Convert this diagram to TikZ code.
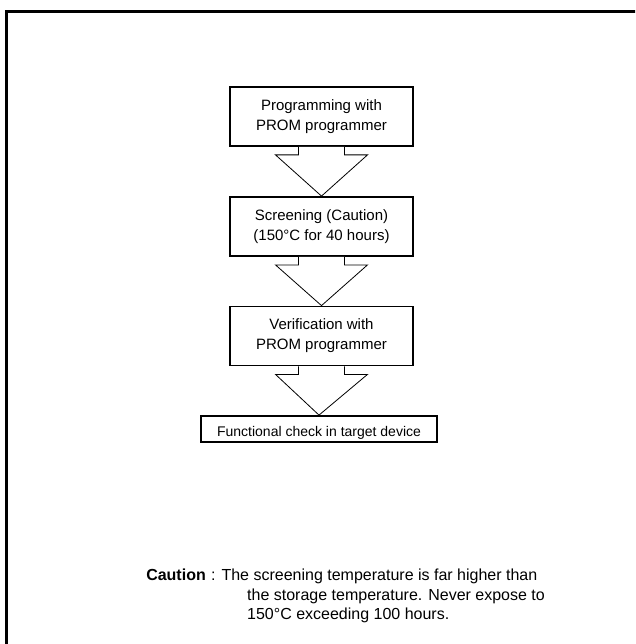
\documentclass[tikz,border=0pt]{standalone}
\usepackage{fontspec}
\setmainfont{Liberation Sans}
\usetikzlibrary{positioning, calc}

\tikzset{
  stepbox/.style={draw, line width=1.8pt, minimum width=183pt, minimum height=59pt,
    align=center, inner sep=0pt, font=\fontsize{15}{20}\selectfont,
    execute at begin node={\rule{0pt}{18pt}}},
  flowarrow/.style={draw, line width=0.8pt, fill=white, line join=miter},
  notetext/.style={anchor=base west, inner sep=0pt, font=\fontsize{16}{20}\selectfont},
}

% hollow block arrow from the bottom of #1 down to the top of #2
\newcommand{\flowdown}[2]{
  \draw[flowarrow] ($(#1.south)+(-23,0)$) -- ++(0,8) -- ++(-23,0) -- (#2.north)
    -- ($(#1.south)+(46,8)$) -- ++(-23,0) -- ++(0,-8);
}

\begin{document}
\begin{tikzpicture}[x=1pt, y=-1pt]
    \clip (0,0) rectangle (635,644);

    % outer frame (only top and left edges fall inside the page)
    \draw[line width=3pt] (6,700) |- (700,12);

    % ----------------------------------------------------
    % Process steps
    % ----------------------------------------------------
    \node[stepbox] (prog)   at (321.5,116.5) {Programming with\\PROM programmer};
    \node[stepbox] (screen) at (321.5,226.5) {Screening (Caution)\\(150°C for 40 hours)};
    \node[stepbox] (verify) at (321.5,336)   {Verification with\\PROM programmer};
    \node[stepbox, minimum width=236pt, minimum height=26pt,
          font=\fontsize{14}{16}\selectfont,
          execute at begin node={\rule{0pt}{14pt}}] (check) at (319,429)
          {Functional check in target device};

    \flowdown{prog}{screen}
    \flowdown{screen}{verify}
    \flowdown{verify}{check}

    % ----------------------------------------------------
    % Caution note
    % ----------------------------------------------------
    \node[notetext, anchor=base east] (cautlabel) at (206,580) {\textbf{Caution}};
    \node[notetext] (cautline1) at (211,580) {: The screening temperature is far higher than};
    \node[notetext] (cautline2) at (247,600) {the storage temperature. Never expose to};
    \node[notetext] (cautline3) at (247,619) {150°C exceeding 100 hours.};

\end{tikzpicture}
\end{document}
